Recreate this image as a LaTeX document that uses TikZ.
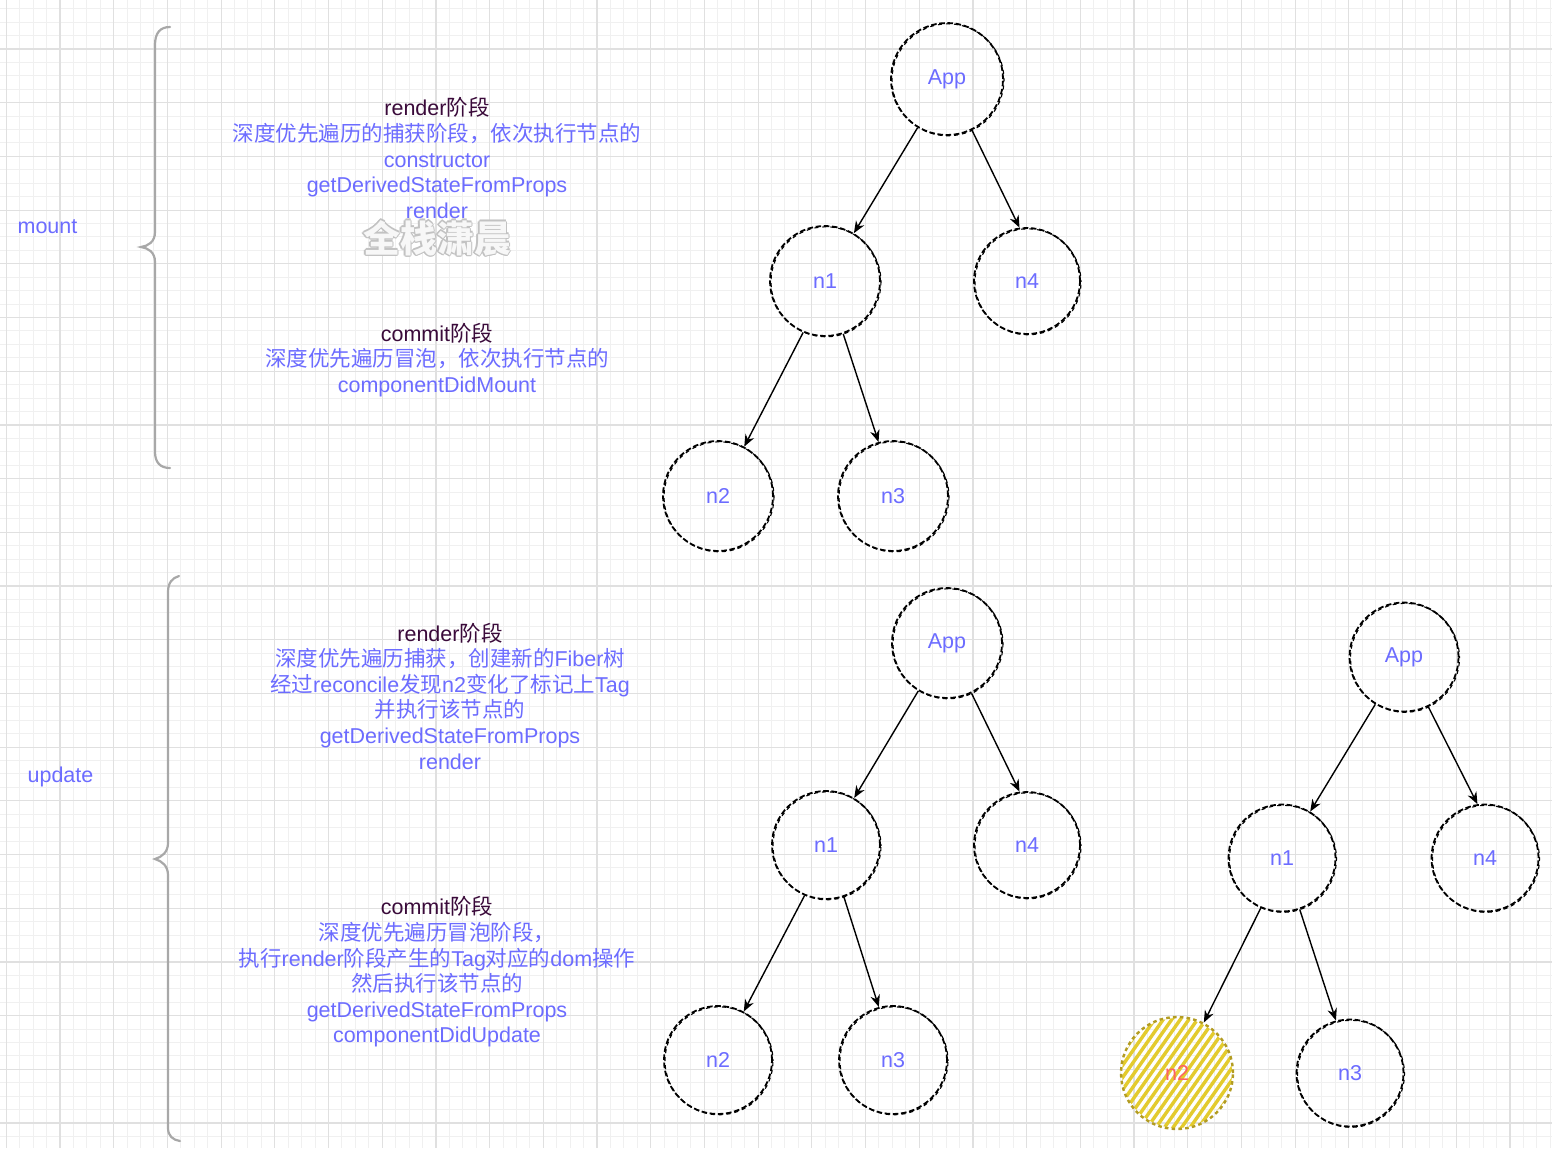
\documentclass[tikz,border=0pt]{standalone}
\usepackage{fontspec}
\setmainfont{Liberation Sans}
\newfontfamily\cjk{Noto Sans CJK SC}
\usetikzlibrary{arrows.meta,calc}
\definecolor{txtblue}{HTML}{6C6CFF}
\definecolor{ttl}{HTML}{3A0A3A}
\definecolor{gridminor}{HTML}{F0F0F0}
\definecolor{gridmajor}{HTML}{E0E0E0}
\definecolor{bracegray}{HTML}{A8A8A8}
\definecolor{hachure}{HTML}{E3CB2E}
\definecolor{olive}{HTML}{B39C22}
\definecolor{redtxt}{HTML}{FF6262}
\definecolor{wmedge}{HTML}{C2C2C2}
\definecolor{wmfill}{HTML}{F7F7F7}
\newcommand\zh[1]{{\cjk #1}}
\tikzset{
  txt/.style={align=center, text=txtblue, inner sep=0pt, font=\fontsize{10.75}{12.8}\selectfont},
  lbl/.style={text=txtblue, inner sep=0pt, font=\fontsize{10.75}{12.8}\selectfont},
  tnode/.style={circle, minimum size=55pt, inner sep=0pt, draw=black, line width=0.9pt,
    dash pattern=on 2.8pt off 1.3pt, text=txtblue, font=\fontsize{10.75}{12}\selectfont,
    postaction={draw=black, line width=0.55pt, dash pattern=on 2pt off 2pt, dash phase=1pt,
      transform canvas={xshift=0.5pt, yshift=-0.4pt}}},
  ynode/.style={circle, minimum size=56pt, inner sep=0pt, draw=olive, line width=1.2pt,
    dash pattern=on 1.8pt off 1.6pt, text=redtxt, font=\fontsize{10.75}{12}\selectfont},
  conn/.style={-{Stealth[length=6pt,width=4.8pt]}, line width=0.7pt, black},
  brace/.style={draw=bracegray, line width=1.1pt, line cap=round},
  wm/.style={inner sep=0pt, font=\cjk\bfseries\fontsize{18.5}{20}\selectfont}
}
\begin{document}
\begin{tikzpicture}[x=0.5pt,y=-0.5pt]
\useasboundingbox (0,0) rectangle (1552,1148);
\fill[white] (0,0) rectangle (1552,1148);
% grid
\foreach \i in {0,...,115} {
  \draw[gridminor, line width=0.5pt] ({6.3+\i*13.425},0) -- ({6.3+\i*13.425},1148);
}
\foreach \j in {0,...,84} {
  \draw[gridminor, line width=0.5pt] (0,{8.7+\j*13.425}) -- (1552,{8.7+\j*13.425});
}
\foreach \i in {0,...,28} {
  \draw[gridmajor, line width=0.6pt] ({6.3+\i*53.7},0) -- ({6.3+\i*53.7},1148);
}
\foreach \j in {0,...,21} {
  \draw[gridmajor, line width=0.6pt] (0,{49+\j*53.7}) -- (1552,{49+\j*53.7});
}

% left labels
\node[lbl] (mount) at (47.5,227) {mount};
\node[lbl] (update) at (60.5,777) {update};

% braces
\draw[brace] (170,27) .. controls (160,27) and (155,33) .. (155,45) -- (155,232)
  .. controls (155,242) and (148,246) .. (141,247)
  .. controls (148,248) and (155,252) .. (155,262) -- (155,452)
  .. controls (155,462) and (160,468) .. (170,468);
\draw[brace] (179,576) .. controls (172,578) and (168,583) .. (168,592) -- (168,843)
  .. controls (168,852) and (162,857) .. (155,859)
  .. controls (162,861) and (168,866) .. (168,875) -- (168,1128)
  .. controls (168,1136) and (173,1140) .. (180,1141);

% watermark
\foreach \dx/\dy [count=\k] in {-1.3/0,1.3/0,0/-1.3,0/1.3,-0.9/-0.9,0.9/0.9,-0.9/0.9,0.9/-0.9} {
  \node[wm, text=wmedge] (wm\k) at ({437+\dx},{238+\dy}) {全栈潇晨};
}
\node[wm, text=wmfill] (wm) at (437,238) {全栈潇晨};

% text blocks
\node[txt] (mr) at (437,158) {{\color{ttl}render\zh{阶段}}\\
  \zh{深度优先遍历的捕获阶段，依次执行节点的}\\
  constructor\\ getDerivedStateFromProps\\ render};
\node[txt] (mc) at (437,360) {{\color{ttl}commit\zh{阶段}}\\
  \zh{深度优先遍历冒泡，依次执行节点的}\\
  componentDidMount};
\node[txt] (ur) at (450,696) {{\color{ttl}render\zh{阶段}}\\
  \zh{深度优先遍历捕获，创建新的}Fiber\zh{树}\\
  \zh{经过}reconcile\zh{发现}n2\zh{变化了标记上}Tag\\
  \zh{并执行该节点的}\\ getDerivedStateFromProps\\ render};
\node[txt] (uc) at (437,972) {{\color{ttl}commit\zh{阶段}}\\
  \zh{深度优先遍历冒泡阶段，}\\
  \zh{执行}render\zh{阶段产生的}Tag\zh{对应的}dom\zh{操作}\\
  \zh{然后执行该节点的}\\ getDerivedStateFromProps\\ componentDidUpdate};

% mount tree
\node[tnode, minimum size=56pt] (a1) at (947,79) {App};
\node[tnode] (b1) at (825,281) {n1};
\node[tnode, minimum size=53pt] (d1) at (1027,281) {n4};
\node[tnode] (c1) at (718,496) {n2};
\node[tnode] (e1) at (893,496) {n3};
\draw[conn] (a1) -- (b1);
\draw[conn] (a1.-64) -- (d1.98);
\draw[conn] (b1.-113) -- (c1.62);
\draw[conn] (b1.-71) -- (e1.105);

% update tree (current)
\node[tnode, minimum size=55pt] (a2) at (947,643) {App};
\node[tnode, minimum size=54pt] (b2) at (826,845) {n1};
\node[tnode, minimum size=53pt] (d2) at (1027,845) {n4};
\node[tnode, minimum size=54pt] (c2) at (718,1060) {n2};
\node[tnode, minimum size=54pt] (e2) at (893,1060) {n3};
\draw[conn] (a2) -- (b2);
\draw[conn] (a2.-64) -- (d2.98);
\draw[conn] (b2.-113) -- (c2.62);
\draw[conn] (b2.-71) -- (e2.105);

% update tree (workInProgress)
\begin{scope}
  \clip (1177,1073) circle (55);
  \foreach \s in {-84,-77,...,84} {
    \draw[hachure, line width=1.7pt, line cap=round]
      ($(1177,1073)+({cos(55)*(-90)-sin(55)*\s},{-(sin(55)*(-90)+cos(55)*\s)})$) --
      ($(1177,1073)+({cos(55)*90-sin(55)*\s},{-(sin(55)*90+cos(55)*\s)})$);
  }
\end{scope}
\node[tnode, minimum size=54.5pt] (a3) at (1404,657) {App};
\node[tnode, minimum size=53.5pt] (b3) at (1282,858) {n1};
\node[tnode, minimum size=53.5pt] (d3) at (1485,858) {n4};
\node[ynode] (c3) at (1177,1073) {n2};
\node[tnode, minimum size=53.5pt] (e3) at (1350,1073) {n3};
\draw[conn] (a3) -- (b3);
\draw[conn] (a3.-64) -- (d3.98);
\draw[conn] (b3.-113) -- (c3.62);
\draw[conn] (b3.-71) -- (e3.105);
\end{tikzpicture}
\end{document}
